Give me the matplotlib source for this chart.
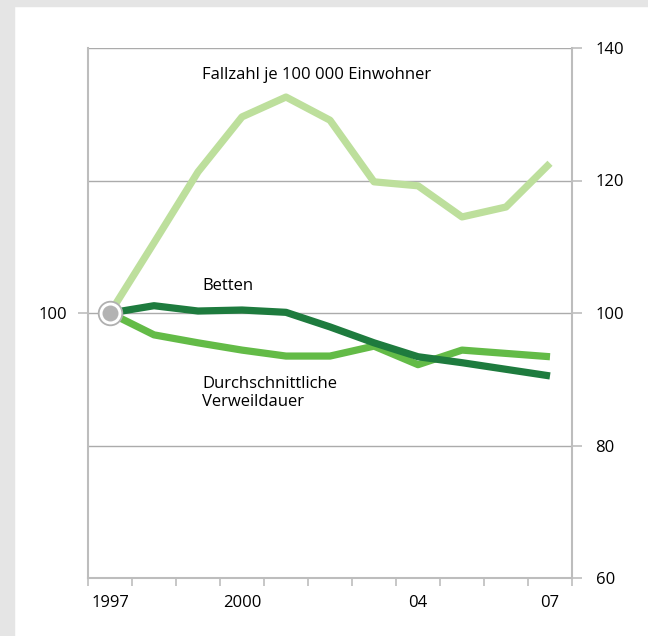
import numpy as np
import matplotlib.pyplot as plt
from matplotlib.patches import Rectangle

plt.rcParams['font.family'] = ['Open Sans', 'DejaVu Sans']

years = [1997, 1998, 1999, 2000, 2001, 2002, 2003, 2004, 2005, 2006, 2007]
year_labels = ['1997', '', '', '2000', '', '', '', '04', '', '', '07']
fallzahl = [100, 110.6, 121.3, 129.6, 132.6, 129.1, 119.8, 119.2, 114.5, 116.0, 122.6]
betten = [100, 101.1, 100.3, 100.45, 100.1, 97.9, 95.5, 93.4, 92.5, 91.5, 90.5]
verweildauer = [100, 96.7, 95.5, 94.4, 93.5, 93.5, 95.0, 92.2, 94.4, 93.9, 93.4]
right_ticks = [60, 80, 100, 120, 140]

c_light = '#bddf9c'
c_dark = '#1e7b3e'
c_mid = '#63bb47'
c_axis = '#bdbdbd'
c_grid = '#ababab'
fs = 12

fig = plt.figure(figsize=(6.48, 6.36), dpi=100)
fig.patch.set_facecolor('white')
# grey frame at top and left
fig.patches.append(Rectangle((0, 1 - 6 / 636), 1, 6 / 636, transform=fig.transFigure,
                             color='#e5e5e5', zorder=0))
fig.patches.append(Rectangle((0, 0), 14 / 648, 1, transform=fig.transFigure,
                             color='#e5e5e5', zorder=0))

ax = fig.add_axes([88 / 648, 1 - 578 / 636, (572 - 88) / 648, (578 - 48) / 636])
x = np.arange(len(years))

for yv in [80, 100, 120, 140]:
    ax.axhline(yv, color=c_grid, lw=1.0, zorder=1)

ax.plot(x, fallzahl, color=c_light, lw=5.2, solid_capstyle='butt', zorder=3)
ax.plot(x, verweildauer, color=c_mid, lw=5.2, solid_capstyle='butt', zorder=4)
ax.plot(x, betten, color=c_dark, lw=5.2, solid_capstyle='butt', zorder=5)

# start marker
ax.plot(x[0], 100, 'o', ms=17, mfc='white', mec='#b0b0b0', mew=1.3, zorder=6)
ax.plot(x[0], 100, 'o', ms=11.5, mfc='#b3b3b3', mec='none', zorder=7)

ax.set_xlim(-0.5, len(years) - 0.5)
ax.set_ylim(60, 140)

for s in ['left', 'right', 'bottom']:
    ax.spines[s].set_color(c_axis)
    ax.spines[s].set_linewidth(1.5)
ax.spines['top'].set_visible(False)

ax.set_xticks(x)
ax.set_xticklabels(year_labels, fontsize=fs)
ax.set_xticks(np.arange(-0.5, len(years)), minor=True)
ax.tick_params(axis='x', which='major', length=0, pad=12)
ax.tick_params(axis='x', which='minor', length=6, color=c_axis, width=1.2)

ax.set_yticks([100])
ax.set_yticklabels(['100'], fontsize=fs)
ax.tick_params(axis='y', length=7, color=c_axis, width=1.2, pad=8)

ax2 = ax.twinx()
ax2.set_ylim(60, 140)
ax2.set_yticks(right_ticks)
ax2.set_yticklabels([str(t) for t in right_ticks], fontsize=fs)
ax2.tick_params(axis='y', length=7, color=c_axis, width=1.2, pad=10)
for s in ax2.spines.values():
    s.set_visible(False)

ax.text(2.1, 135.9, 'Fallzahl je 100 000 Einwohner', fontsize=fs, va='center', ha='left')
ax.text(2.1, 104.1, 'Betten', fontsize=fs, va='center', ha='left')
ax.text(2.1, 87.9, 'Durchschnittliche\nVerweildauer', fontsize=fs, va='center', ha='left',
        linespacing=1.2)

fig.savefig('out.png', dpi=100)
